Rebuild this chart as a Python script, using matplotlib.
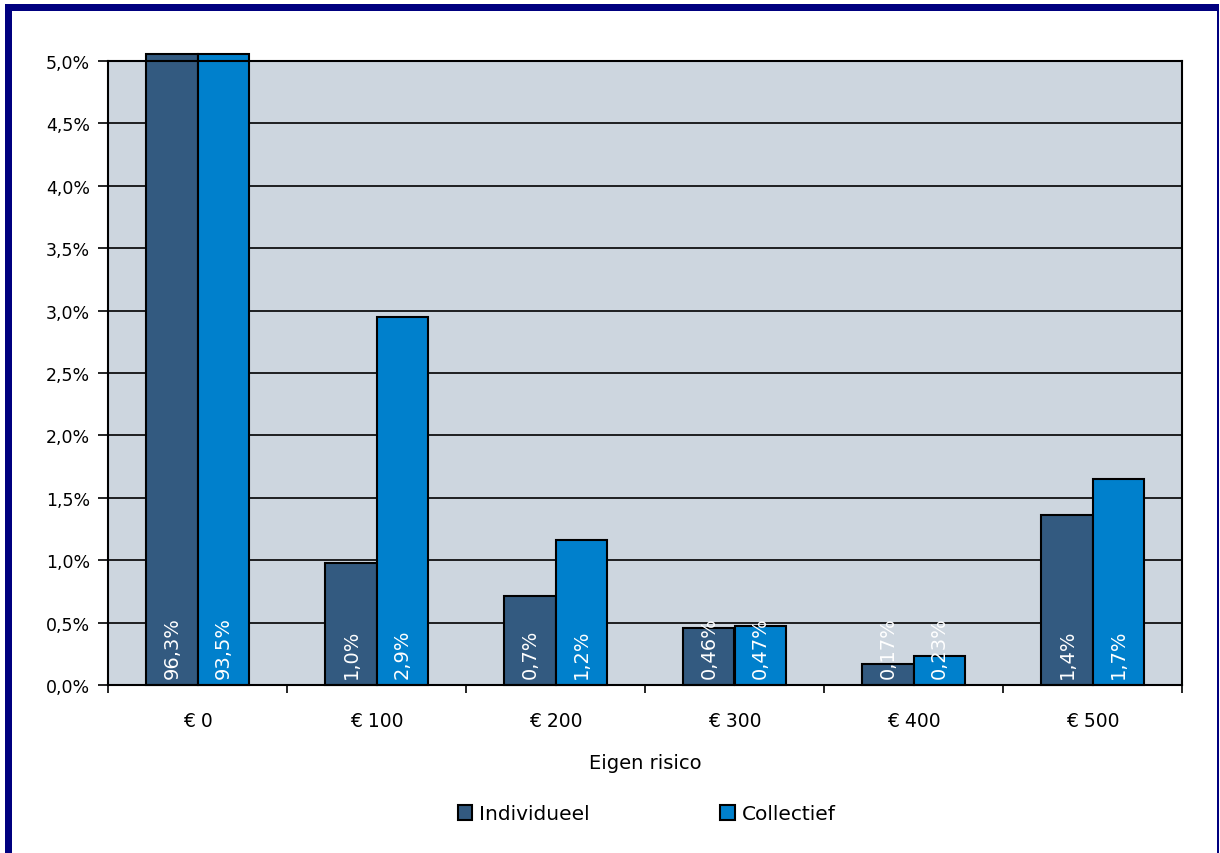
import matplotlib
import numpy as np

matplotlib.use('agg')

import matplotlib.pyplot as plt
from matplotlib.patches import Rectangle

categories = ['€ 0', '€ 100', '€ 200', '€ 300', '€ 400', '€ 500']
individueel = [96.3, 0.98, 0.71, 0.46, 0.17, 1.36]
collectief = [93.5, 2.95, 1.16, 0.47, 0.23, 1.65]
individueel_labels = ['96,3%', '1,0%', '0,7%', '0,46%', '0,17%', '1,4%']
collectief_labels = ['93,5%', '2,9%', '1,2%', '0,47%', '0,23%', '1,7%']
y_ticks = [0.0, 0.5, 1.0, 1.5, 2.0, 2.5, 3.0, 3.5, 4.0, 4.5, 5.0]

dark_blue = '#335A80'
light_blue = '#0080CC'
navy = '#00007F'

plt.rcParams.update({
  'font.family': 'DejaVu Sans',
  'font.size': 12,
})

fig = plt.figure(figsize=(12.2, 8.54), dpi=100)
fig.set_facecolor('white')
ax = fig.add_axes([108 / 1220, 1 - 686 / 854, (1182 - 108) / 1220, (686 - 62) / 854])
ax.set_facecolor('#CDD6DF')

x = np.arange(len(categories))
width = 0.285
top = 5.06  # bars poke slightly above the 5% line

for yv in y_ticks[1:]:
  ax.axhline(yv, color='black', lw=1.2, zorder=1)

bars_i = ax.bar(x - width / 2, np.minimum(individueel, top), width, color=dark_blue,
                edgecolor='black', linewidth=1.5, zorder=2, clip_on=False, label='Individueel')
bars_c = ax.bar(x + width / 2, np.minimum(collectief, top), width, color=light_blue,
                edgecolor='black', linewidth=1.5, zorder=2, clip_on=False, label='Collectief')

for xi, lab in zip(x - width / 2, individueel_labels):
  ax.text(xi, 0.06, lab, rotation=90, ha='center', va='bottom', color='white',
          fontsize=14, zorder=3)
for xi, lab in zip(x + width / 2, collectief_labels):
  ax.text(xi, 0.06, lab, rotation=90, ha='center', va='bottom', color='white',
          fontsize=14, zorder=3)

ax.set_xlim(-0.5, len(categories) - 0.5)
ax.set_ylim(0, 5.0)
ax.set_yticks(y_ticks, [f'{v:.1f}%'.replace('.', ',') for v in y_ticks])
ax.set_xticks(np.arange(len(categories) + 1) - 0.5, [''] * (len(categories) + 1))
ax.set_xticks(x, categories, minor=True)
ax.tick_params(axis='x', which='major', length=6, width=1.2, direction='out')
ax.tick_params(axis='x', which='minor', length=0, pad=19, labelsize=13.5)
ax.tick_params(axis='y', length=7, width=1.2, labelsize=12.5, pad=6)

for s in ax.spines.values():
  s.set_color('black')
  s.set_linewidth(1.5)

ax.set_xlabel('Eigen risico', fontsize=14, labelpad=16)

leg = fig.legend(handles=[bars_i, bars_c], loc='center', bbox_to_anchor=(0.530, 1 - 815 / 854),
                 ncol=2, frameon=False, fontsize=14.5, handlelength=0.7, handleheight=0.8,
                 handletextpad=0.35, columnspacing=6.5)

# navy frame around the image
fig.patches.append(Rectangle((5 / 1220, 1 - 12 / 854), 1213 / 1220, 7 / 854, transform=fig.transFigure,
                             facecolor=navy, edgecolor='none'))
fig.patches.append(Rectangle((5 / 1220, 0), 7 / 1220, 1 - 5 / 854, transform=fig.transFigure,
                             facecolor=navy, edgecolor='none'))
fig.patches.append(Rectangle((1217 / 1220, 0), 2 / 1220, 1 - 5 / 854, transform=fig.transFigure,
                             facecolor=navy, edgecolor='none'))

fig.savefig('out.png', dpi=100)
